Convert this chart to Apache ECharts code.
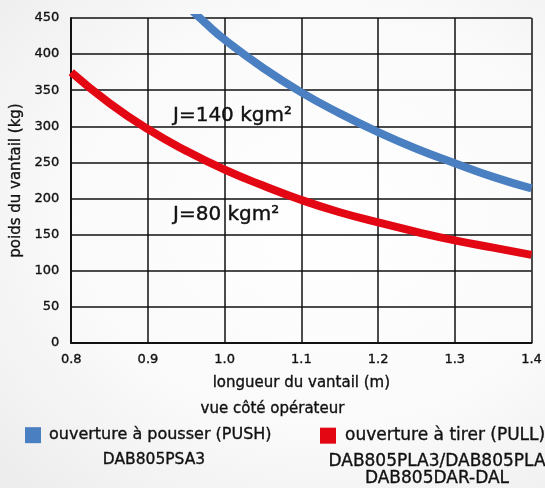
<!DOCTYPE html>
<html>
<head>
<meta charset="utf-8">
<script src="https://cdn.jsdelivr.net/npm/echarts@6/dist/echarts.min.js"></script>
<style>
  html, body { margin: 0; padding: 0; }
  body { background: radial-gradient(ellipse at 60% 45%, #ffffff 0%, #fafafa 55%, #ececec 100%); }
  #chart { width: 545px; height: 488px; }
</style>
</head>
<body>
<div id="chart"></div>
<script>
// Leaf length (m) against leaf weight (kg) for two moments of inertia
const lengthsPull = [0.80, 0.85, 0.90, 0.95, 1.00, 1.05, 1.10, 1.15, 1.20, 1.25, 1.30, 1.35, 1.40];
const weightsPull = [375, 332, 296, 266, 240, 218, 198, 181, 167, 154, 142, 132, 122];
const lengthsPush = [0.95, 0.975, 1.00, 1.05, 1.10, 1.15, 1.20, 1.25, 1.30, 1.35, 1.40];
const weightsPush = [468, 443, 420, 381, 347, 318, 292, 269, 249, 230, 214];

const xTicks = [0.8, 0.9, 1.0, 1.1, 1.2, 1.3, 1.4];
const yTicks = [0, 50, 100, 150, 200, 250, 300, 350, 400, 450];

const pushName = 'ouverture à pousser (PUSH)';
const pullName = 'ouverture à tirer (PULL)';
const pushModels = 'DAB805PSA3';
const pullModels = 'DAB805PLA3/DAB805PLA\nDAB805DAR-DAL';
const labelPush = 'J=140 kgm²';
const labelPull = 'J=80 kgm²';

const FONT = '"DejaVu Sans", sans-serif';
const BLUE = '#4a7fc1';
const RED = '#e30613';
const INK = '#111';
// thin outline in the text colour gives the lettering a medium weight
const heavy = { textBorderColor: INK, textBorderWidth: 0.35 };

const chart = echarts.init(document.getElementById('chart'));
chart.setOption({
  animation: false,
  textStyle: { fontFamily: FONT },
  grid: { left: 70, right: 12, top: 18, bottom: 145, show: false },
  xAxis: {
    type: 'value',
    min: 0.8, max: 1.4, interval: 0.1,
    name: 'longueur du vantail (m)',
    nameLocation: 'middle', nameGap: 33,
    nameTextStyle: Object.assign({ color: INK, fontSize: 15, fontFamily: FONT }, heavy),
    axisLine: { show: true, lineStyle: { color: INK, width: 2 } },
    axisTick: { show: false },
    axisLabel: Object.assign({
      color: INK, fontSize: 13, margin: 10, fontFamily: FONT,
      formatter: v => xTicks.find(t => Math.abs(t - v) < 1e-6).toFixed(1)
    }, heavy),
    splitLine: { show: true, lineStyle: { color: INK, width: 1.5 } }
  },
  yAxis: {
    type: 'value',
    min: 0, max: 450, interval: 50,
    name: 'poids du vantail (kg)',
    nameLocation: 'middle', nameGap: 46,
    nameTextStyle: Object.assign({ color: INK, fontSize: 15, fontFamily: FONT }, heavy),
    axisLine: { show: true, lineStyle: { color: INK, width: 2 } },
    axisTick: { show: false },
    axisLabel: Object.assign({
      color: INK, fontSize: 13, margin: 12, fontFamily: FONT,
      formatter: v => String(yTicks.find(t => t === v))
    }, heavy),
    splitLine: { show: true, lineStyle: { color: INK, width: 1.5 } }
  },
  legend: [
    {
      data: [pushName], left: 20, top: 422, itemWidth: 16, itemHeight: 16, itemGap: 8,
      icon: 'rect',
      textStyle: Object.assign({ color: INK, fontSize: 16, fontFamily: FONT, padding: [0, 0, 0, 3] }, heavy)
    },
    {
      data: [pullName], left: 315, top: 422, itemWidth: 16, itemHeight: 16, itemGap: 8,
      icon: 'rect',
      textStyle: Object.assign({ color: INK, fontSize: 17, fontFamily: FONT, padding: [0, 0, 0, 4] }, heavy)
    }
  ],
  graphic: [
    { type: 'text', left: 'center', top: 401,
      style: { text: 'vue côté opérateur', fill: INK, stroke: INK, lineWidth: 0.35, font: '15px ' + FONT } },
    { type: 'text', x: 154, y: 452,
      style: { text: pushModels, fill: INK, stroke: INK, lineWidth: 0.35, font: '15.5px ' + FONT, textAlign: 'center' } },
    { type: 'text', x: 437, y: 453,
      style: { text: pullModels, fill: INK, stroke: INK, lineWidth: 0.35, font: '17px ' + FONT, textAlign: 'center', lineHeight: 17 } },
    { type: 'text', x: 173, y: 106,
      style: { text: labelPush, fill: INK, stroke: INK, lineWidth: 0.4, font: '20px ' + FONT } },
    { type: 'text', x: 173, y: 205,
      style: { text: labelPull, fill: INK, stroke: INK, lineWidth: 0.4, font: '20px ' + FONT } }
  ],
  series: [
    {
      name: pushName, type: 'line', smooth: true, showSymbol: false, clip: true,
      itemStyle: { color: BLUE },
      lineStyle: { color: BLUE, width: 8 },
      data: lengthsPush.map((x, i) => [x, weightsPush[i]])
    },
    {
      name: pullName, type: 'line', smooth: true, showSymbol: false, clip: true,
      itemStyle: { color: RED },
      lineStyle: { color: RED, width: 8 },
      data: lengthsPull.map((x, i) => [x, weightsPull[i]])
    }
  ]
});
</script>
</body>
</html>
